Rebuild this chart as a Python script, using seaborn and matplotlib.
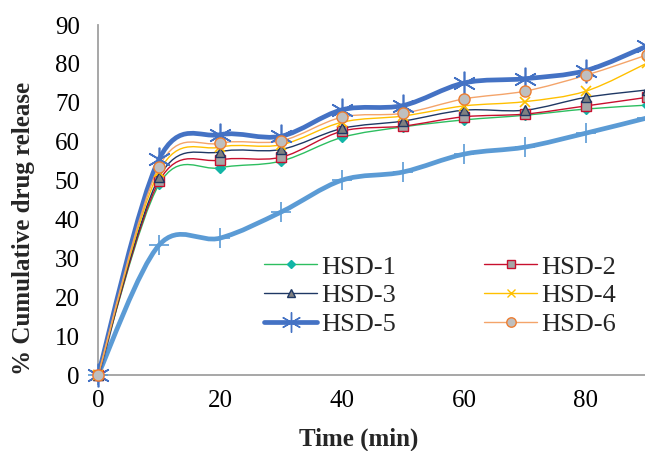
"""Cumulative drug release profiles for the HSD formulations."""

import matplotlib

matplotlib.use("Agg")
import matplotlib.pyplot as plt
import numpy as np
import pandas as pd
import seaborn as sns
from matplotlib.lines import Line2D
from matplotlib.patches import PathPatch
from matplotlib.path import Path

time_min = [0, 10, 20, 30, 40, 50, 60, 70, 80, 90]
hsd_1 = [0, 49.0, 53.3, 55.0, 61.1, 63.8, 65.6, 66.8, 68.4, 69.4]
hsd_2 = [0, 49.8, 55.3, 56.0, 62.7, 64.0, 66.4, 67.1, 69.2, 71.4]
hsd_3 = [0, 50.8, 57.4, 58.0, 63.4, 65.3, 68.1, 68.1, 71.4, 73.3]
hsd_4 = [0, 52.3, 58.6, 59.2, 65.0, 66.6, 69.2, 70.3, 73.0, 80.2]
hsd_5 = [0, 55.5, 61.8, 61.4, 68.2, 69.3, 75.1, 76.2, 78.3, 84.6]
hsd_6 = [0, 53.6, 59.6, 60.2, 66.3, 67.3, 71.0, 73.0, 77.1, 82.3]
unlabeled = [0, 33.4, 35.2, 41.9, 50.1, 52.2, 56.8, 58.6, 62.2, 66.1]

x_ticks = [0, 20, 40, 60, 80]
y_ticks = [0, 10, 20, 30, 40, 50, 60, 70, 80, 90]

# label, values, line colour, line width, marker, marker size, face, edge
series = [
    (None, unlabeled, "#5B9BD5", 3.4, "+", 15, "#5B9BD5", "#5B9BD5"),
    ("HSD-5", hsd_5, "#4472C4", 3.4, (6, 2, 0), 17, "#4472C4", "#4472C4"),
    ("HSD-1", hsd_1, "#2DBE60", 1.0, "D", 5, "#12B5A6", "#12B5A6"),
    ("HSD-2", hsd_2, "#C8102E", 1.0, "s", 7, "#A6A6A6", "#C8102E"),
    ("HSD-3", hsd_3, "#1F3864", 1.0, "^", 7, "#7F7F7F", "#1F3864"),
    ("HSD-4", hsd_4, "#FFC000", 1.0, "x", 7, "#FFC000", "#FFC000"),
    ("HSD-6", hsd_6, "#F4A46A", 1.0, "o", 8, "#BFBFBF", "#ED7D31"),
]
# legend fills column by column: left column 1,3,5 / right column 2,4,6
legend_order = ["HSD-1", "HSD-3", "HSD-5", "HSD-2", "HSD-4", "HSD-6"]


def smooth_path(xs, ys):
    """Catmull-Rom style Bezier path through the points (like Excel smoothing)."""
    pts = np.column_stack([xs, ys]).astype(float)
    verts = [pts[0]]
    codes = [Path.MOVETO]
    n = len(pts)
    for i in range(n - 1):
        p0 = pts[max(i - 1, 0)]
        p1 = pts[i]
        p2 = pts[i + 1]
        p3 = pts[min(i + 2, n - 1)]
        verts += [p1 + (p2 - p0) / 6, p2 - (p3 - p1) / 6, p2]
        codes += [Path.CURVE4] * 3
    return Path(verts, codes)


sns.set_style("white")
plt.rcParams["font.family"] = ["Liberation Serif", "DejaVu Serif"]

fig = plt.figure(figsize=(6.45, 4.51), dpi=100)
ax = fig.add_axes([0.152, 0.1685, 0.851, 0.776])

handles = {}
for label, values, color, lw, marker, ms, face, edge in series:
    df = pd.DataFrame({"time": time_min, "release": values})
    ax.add_patch(PathPatch(smooth_path(df["time"], df["release"]), fill=False,
                           edgecolor=color, linewidth=lw, zorder=2))
    unfilled = marker in ("+", "x") or isinstance(marker, tuple)
    sns.lineplot(data=df, x="time", y="release", ax=ax, linestyle="none",
                 marker=marker, markersize=ms, markerfacecolor=face,
                 markeredgecolor=edge, markeredgewidth=1.2 if unfilled else 1.0,
                 color=color, errorbar=None, legend=False, clip_on=False, zorder=3)
    if label:
        handles[label] = Line2D([], [], color=color, linewidth=lw, marker=marker,
                                markersize=ms * 0.85, markerfacecolor=face,
                                markeredgecolor=edge, markeredgewidth=1.0)

ax.set_xlim(0, 90)
ax.set_ylim(0, 90)
ax.set_xticks(x_ticks)
ax.set_yticks(y_ticks)
ax.tick_params(axis="both", labelsize=18, colors="#A0A0A0", labelcolor="black",
               direction="out", length=6, width=1.0, pad=5)
ax.tick_params(axis="y", pad=7)
for side in ("top", "right"):
    ax.spines[side].set_visible(False)
for side in ("left", "bottom"):
    ax.spines[side].set_color("#A0A0A0")
    ax.spines[side].set_linewidth(1.3)

ax.set_xlabel("Time (min)", fontsize=18, fontweight="bold")
ax.set_ylabel("% Cumulative drug release", fontsize=18, fontweight="bold")
ax.xaxis.set_label_coords(0.474, -0.15)
ax.yaxis.set_label_coords(-0.115, 0.42)

fig.legend([handles[k] for k in legend_order], legend_order, loc="upper left",
           bbox_to_anchor=(251 / 645, 1 - 242 / 451), ncol=2, frameon=False,
           fontsize=19, handlelength=2.0, handletextpad=0.15, columnspacing=3.35,
           labelspacing=0.2, borderpad=0)

fig.savefig("out.png", dpi=100)
plt.close(fig)
